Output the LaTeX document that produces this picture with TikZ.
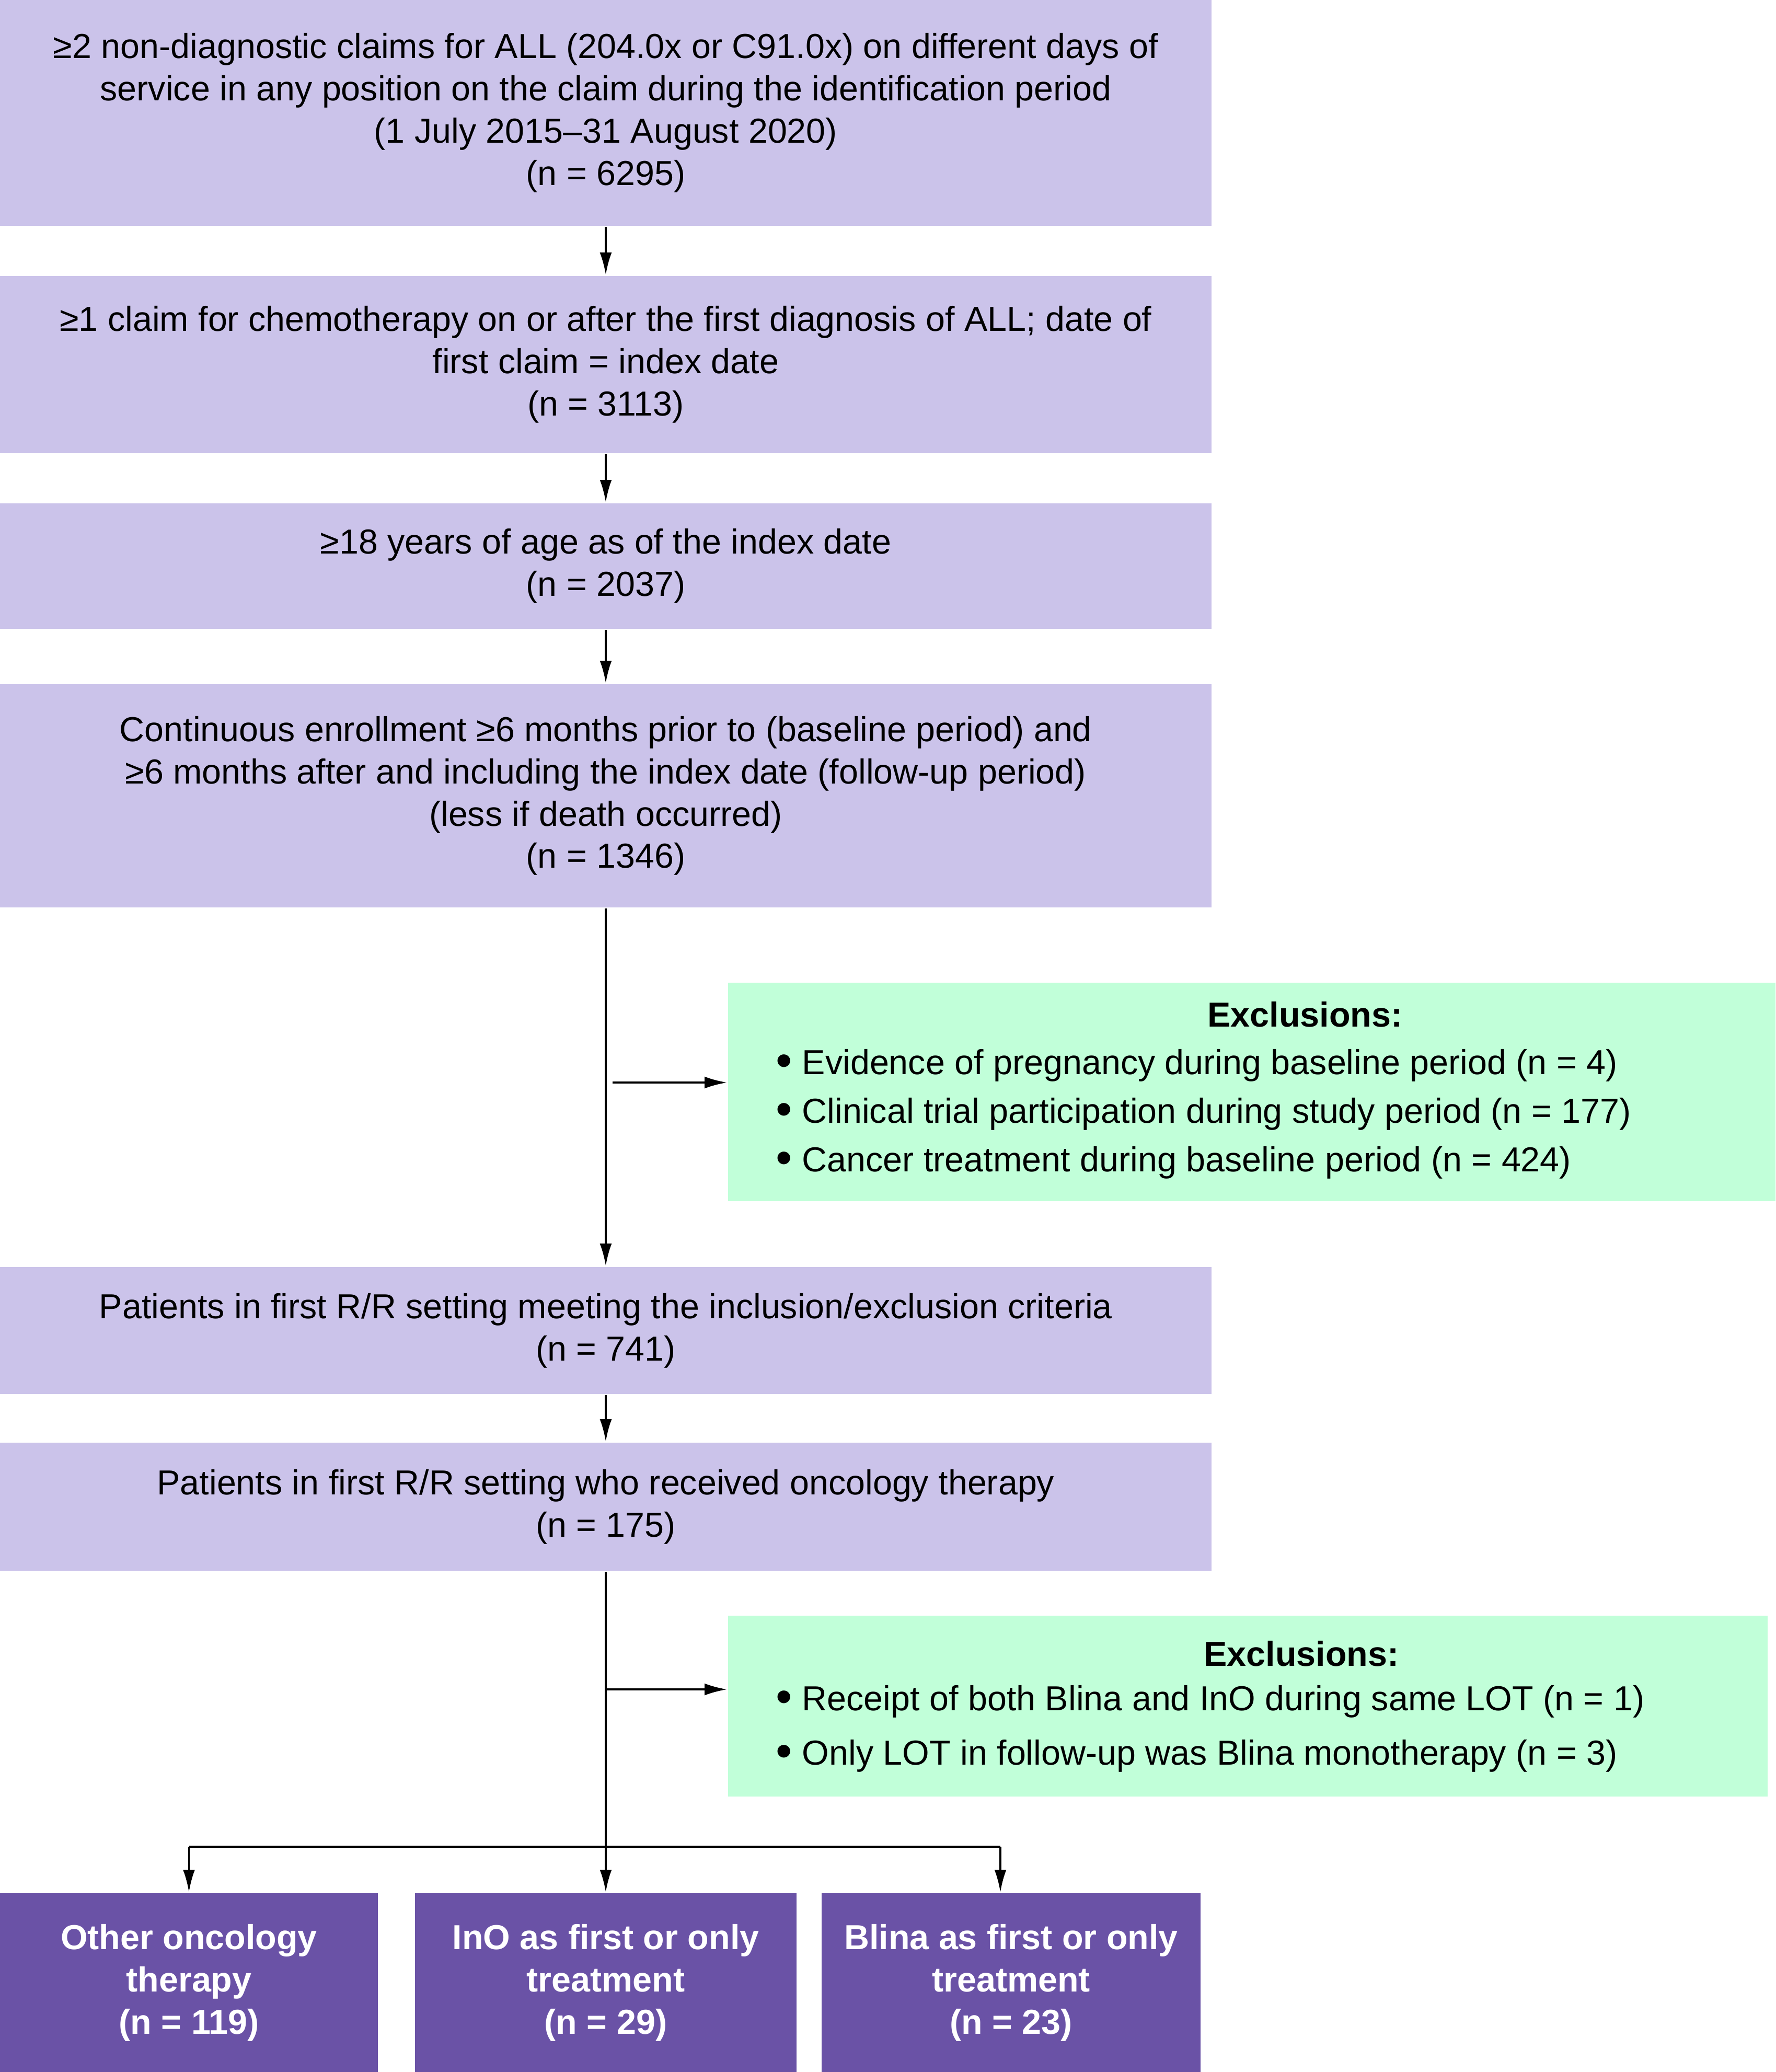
\documentclass[tikz,border=0pt]{standalone}
\usepackage{fontspec}
\setmainfont{Liberation Sans}
\usetikzlibrary{arrows.meta}
\definecolor{boxlav}{HTML}{CBC3EA}
\definecolor{boxmint}{HTML}{C1FFD9}
\definecolor{boxviolet}{HTML}{6A52A6}
\newcommand{\exbul}{\raisebox{-0.12ex}{\scalebox{1.35}{•}}}
\tikzset{
    mainbox/.style={fill=boxlav, minimum width=23.18cm, inner sep=0pt, align=center,
        font=\fontsize{18.9}{23}\selectfont},
    exclbox/.style={fill=boxmint, inner sep=0pt},
    armbox/.style={fill=boxviolet, text=white, inner sep=0pt, align=center, minimum height=3.42cm,
        font=\fontsize{18.9}{23}\selectfont\bfseries},
    extitle/.style={font=\fontsize{18.9}{23}\selectfont\bfseries},
    exlist/.style={align=left, inner sep=0pt}
}

\begin{document}
\begin{tikzpicture}[>={Latex[length=4.3mm,width=2.3mm]}, line width=1.1pt]
    \useasboundingbox (0,0) rectangle (33.97,-39.64);

    % 主流程
    \node[mainbox, minimum height=4.32cm] (b1) at (11.59,-2.16)
        {≥2 non-diagnostic claims for ALL (204.0x or C91.0x) on different days of\\
         service in any position on the claim during the identification period\\
         (1 July 2015–31 August 2020)\\ (n = 6295)};
    \node[mainbox, minimum height=3.39cm] (b2) at (11.59,-6.975)
        {≥1 claim for chemotherapy on or after the first diagnosis of ALL; date of\\
         first claim = index date\\ (n = 3113)};
    \node[mainbox, minimum height=2.40cm] (b3) at (11.59,-10.83)
        {≥18 years of age as of the index date\\ (n = 2037)};
    \node[mainbox, minimum height=4.27cm] (b4) at (11.59,-15.225)
        {Continuous enrollment ≥6 months prior to (baseline period) and\\
         ≥6 months after and including the index date (follow-up period)\\
         (less if death occurred)\\ (n = 1346)};
    \node[mainbox, minimum height=2.43cm] (b5) at (11.59,-25.455)
        {Patients in first R/R setting meeting the inclusion/exclusion criteria\\ (n = 741)};
    \node[mainbox, minimum height=2.45cm] (b6) at (11.59,-28.825)
        {Patients in first R/R setting who received oncology therapy\\ (n = 175)};

    % 排除框
    \node[exclbox, minimum width=20.04cm, minimum height=4.18cm] (e1) at (23.95,-20.89) {};
    \node[extitle] (t1) at (24.97,-19.41) {Exclusions:};
    \node[exlist, anchor=west, font=\fontsize{18.9}{26.5}\selectfont] (l1) at (14.83,-21.31)
        {\exbul{} Evidence of pregnancy during baseline period (n = 4)\\
         \exbul{} Clinical trial participation during study period (n = 177)\\
         \exbul{} Cancer treatment during baseline period (n = 424)};
    \node[exclbox, minimum width=19.89cm, minimum height=3.46cm] (e2) at (23.875,-32.64) {};
    \node[extitle] (t2) at (24.90,-31.64) {Exclusions:};
    \node[exlist, anchor=west, font=\fontsize{18.9}{29.5}\selectfont] (l2) at (14.83,-33.07)
        {\exbul{} Receipt of both Blina and InO during same LOT (n = 1)\\
         \exbul{} Only LOT in follow-up was Blina monotherapy (n = 3)};

    % 三组
    \node[armbox, minimum width=7.23cm] (c1) at (3.615,-37.93) {Other oncology\\ therapy\\ (n = 119)};
    \node[armbox, minimum width=7.30cm] (c2) at (11.59,-37.93) {InO as first or only\\ treatment\\ (n = 29)};
    \node[armbox, minimum width=7.25cm] (c3) at (19.345,-37.93) {Blina as first or only\\ treatment\\ (n = 23)};

    % 箭头
    \foreach \a/\b in {b1/b2, b2/b3, b3/b4, b4/b5, b5/b6}
        \draw[->] (\a) -- (\b);
    \coordinate (j1) at (11.72,-20.71);
    \coordinate (j2) at (11.59,-32.32);
    \draw[->] (j1) -- (j1 -| e1.west);
    \draw[->] (j2) -- (j2 -| e2.west);

    \coordinate (br) at (11.59,-35.33);
    \coordinate (br3) at (19.14,-35.33);
    \draw (b6) -- (br);
    \draw (br -| c1) -- (br3);
    \foreach \c in {c1, c2}
        \draw[->] (br -| \c) -- (\c.north);
    \draw[->] (br3) -- (br3 |- c3.north);
\end{tikzpicture}
\end{document}
